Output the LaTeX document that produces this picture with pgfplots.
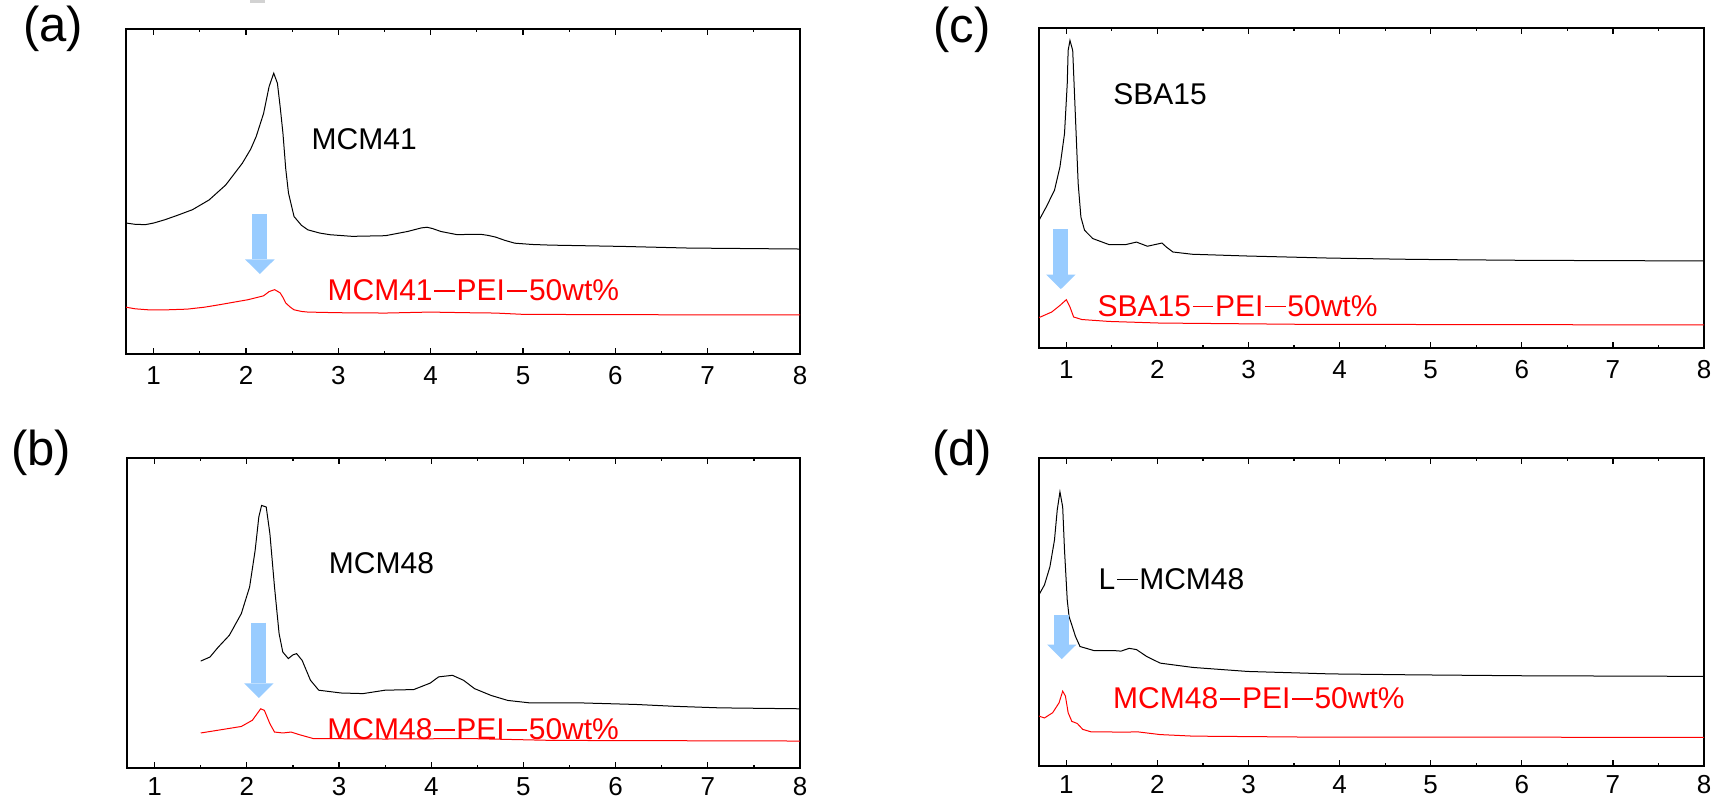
\documentclass[border=0pt]{standalone}
\usepackage{pgfplots}
\pgfplotsset{compat=1.18}
\usepackage{fontspec}
\setmainfont{Liberation Sans}
\usetikzlibrary{arrows.meta}
\definecolor{arrowblue}{RGB}{153,204,255}
\definecolor{pred}{RGB}{255,0,0}
\newcommand{\dash}{\kern0.06em\rule[0.3em]{0.68em}{0.05em}\kern0.06em}
\newcommand{\lab}{\fontsize{15}{15}\selectfont}
\newcommand{\plab}{\fontsize{24.5}{25}\selectfont}
\pgfplotsset{panel/.style={
  scale only axis, anchor=south west,
  xmin=0.7, xmax=8, ymin=0, ymax=100,
  xtick={1,2,3,4,5,6,7,8}, minor x tick num=1,
  ytick=\empty,
  minor ytick={5.88,11.76,17.65,23.53,29.41,35.29,41.18,47.06,52.94,58.82,64.71,70.59,76.47,82.35,88.24,94.12},
  tick align=inside, major tick length=3pt, minor tick length=1.5pt,
  axis line style={line width=0.8pt},
  tick style={line width=0.6pt, black},
  xticklabel style={font=\fontsize{13}{13}\selectfont, inner sep=0pt, yshift=-6pt},
  /pgf/number format/assume math mode=true,
  every axis plot/.append style={line width=0.5pt, mark=none},
}}
\tikzset{bluearrow/.style={arrowblue, line width=7.6pt, -{Triangle[width=14.7pt,length=7.3pt,line width=0pt]}}}
\begin{document}
\begin{tikzpicture}
\useasboundingbox (0,0) rectangle (862.5pt,399.5pt);
\fill[gray!35] (125pt,398pt) rectangle (132.5pt,399.5pt);
\node[font=\plab, inner sep=0pt] at (26.5pt,385pt) {(a)};
\node[font=\plab, inner sep=0pt] at (481pt,384.5pt) {(c)};
\node[font=\plab, inner sep=0pt] at (20.5pt,173.25pt) {(b)};
\node[font=\plab, inner sep=0pt] at (481pt,173.25pt) {(d)};
% (a)
\begin{axis}[panel, at={(63pt,222.5pt)}, width=337pt, height=162.5pt]
\addplot[black] coordinates {(0.70,40.3)(0.80,39.9)(0.91,39.8)(1.00,40.3)(1.12,41.3)(1.25,42.6)(1.42,44.4)(1.60,47.4)(1.78,52.0)(1.96,58.7)(2.05,63.0)(2.11,66.9)(2.19,74.0)(2.25,82.3)(2.30,86.4)(2.34,83.3)(2.37,76)(2.40,67.9)(2.43,57)(2.46,49.5)(2.52,42.3)(2.60,39.6)(2.67,38.2)(2.80,37.2)(2.91,36.7)(3.15,36.2)(3.51,36.4)(3.75,37.7)(3.90,38.8)(3.96,39.0)(4.02,38.6)(4.11,37.7)(4.29,36.7)(4.40,36.8)(4.55,36.8)(4.62,36.5)(4.70,36.0)(4.80,35.0)(4.91,34.1)(5.10,33.7)(5.30,33.5)(6.08,33.1)(6.79,32.6)(8.00,32.3)};
\addplot[pred] coordinates {(0.70,14.4)(0.80,13.9)(0.94,13.6)(1.15,13.6)(1.36,13.8)(1.55,14.4)(1.72,15.2)(1.90,16.1)(2.02,16.7)(2.12,17.4)(2.19,17.9)(2.25,19.2)(2.31,19.8)(2.37,18.8)(2.40,17.4)(2.43,15.7)(2.48,14.4)(2.52,13.6)(2.60,13.1)(2.67,12.9)(3.00,12.7)(3.51,12.6)(3.99,12.9)(4.40,12.7)(4.70,12.6)(5.00,12.2)(6.00,12.1)(8.00,12.0)};
\draw[bluearrow] (axis cs:2.15,43.1) -- (axis cs:2.15,24.6);
\node[font=\lab] at (axis cs:3.28,66.2) {MCM41};
\node[pred, anchor=west, inner sep=0pt, font=\lab] at (axis cs:2.88,19.6) {MCM41\dash PEI\dash 50wt\%};
\end{axis}
% (c)
\begin{axis}[panel, at={(519.5pt,225.5pt)}, width=332.5pt, height=160pt]
\addplot[black] coordinates {(0.70,39.9)(0.78,44.1)(0.87,49.3)(0.93,56.6)(0.98,67.0)(1.01,82.6)(1.02,93.0)(1.04,96.1)(1.07,93.0)(1.10,72.2)(1.13,51.4)(1.16,40.9)(1.20,36.8)(1.29,34.2)(1.47,32.3)(1.65,32.3)(1.77,33.1)(1.89,31.8)(2.05,32.8)(2.10,31.5)(2.17,30.0)(2.38,29.3)(2.98,28.75)(3.89,28.1)(4.80,27.7)(6.01,27.4)(8.00,27.2)};
\addplot[pred] coordinates {(0.70,9.5)(0.84,11.25)(0.93,13.3)(1.00,15.1)(1.04,12.8)(1.08,9.7)(1.17,8.9)(1.47,8.3)(2.02,7.8)(3.59,7.4)(8.00,7.2)};
\draw[bluearrow] (axis cs:0.94,37.1) -- (axis cs:0.94,18.4);
\node[font=\lab] at (axis cs:2.03,79.3) {SBA15};
\node[pred, anchor=west, inner sep=0pt, font=\lab] at (axis cs:1.34,13.1) {SBA15\dash PEI\dash 50wt\%};
\end{axis}
% (b)
\begin{axis}[panel, at={(63.5pt,15.5pt)}, width=336.5pt, height=155pt, xticklabel style={yshift=1.5pt}]
\addplot[black] coordinates {(1.50,34.5)(1.60,35.8)(1.69,39.0)(1.81,42.8)(1.94,49.8)(2.03,58.4)(2.09,70.2)(2.13,81.0)(2.16,84.7)(2.21,84.2)(2.25,75.6)(2.30,58.4)(2.35,43.3)(2.39,37.4)(2.45,35.3)(2.50,36.5)(2.54,36.9)(2.60,34.7)(2.69,28.3)(2.78,25.1)(3.02,24.2)(3.26,24.0)(3.50,25.1)(3.81,25.3)(3.99,27.4)(4.08,29.4)(4.23,29.9)(4.35,28.3)(4.47,25.6)(4.65,23.4)(4.83,21.8)(5.07,21.0)(5.62,21.0)(6.22,20.5)(6.64,19.9)(7.13,19.4)(8.00,19.1)};
\addplot[pred] coordinates {(1.50,11.3)(1.69,12.2)(1.94,13.4)(2.06,15.4)(2.15,19.1)(2.19,18.6)(2.25,14.3)(2.30,11.6)(2.39,11.3)(2.48,11.6)(2.57,10.75)(2.72,9.5)(3.50,9.35)(4.41,9.5)(5.32,8.9)(8.00,8.7)};
\draw[bluearrow] (axis cs:2.13,46.9) -- (axis cs:2.13,22.6);
\node[font=\lab] at (axis cs:3.46,66.2) {MCM48};
\node[pred, anchor=west, inner sep=0pt, font=\lab] at (axis cs:2.87,12.5) {MCM48\dash PEI\dash 50wt\%};
\end{axis}
% (d)
\begin{axis}[panel, at={(519.5pt,16.5pt)}, width=332.5pt, height=154pt, xticklabel style={yshift=1.5pt}]
\addplot[black] coordinates {(0.70,55.6)(0.76,58.8)(0.82,64.7)(0.87,73.4)(0.90,83.1)(0.93,89.0)(0.96,84.1)(0.98,70.1)(1.01,53.9)(1.03,48.5)(1.06,45.8)(1.10,42.1)(1.15,38.8)(1.30,37.5)(1.51,37.5)(1.60,37.3)(1.69,38.2)(1.77,37.8)(1.88,35.6)(2.03,33.4)(2.39,32.0)(2.99,30.7)(3.90,29.9)(4.80,29.6)(6.01,29.3)(8.00,29.1)};
\addplot[pred] coordinates {(0.70,16.2)(0.76,15.6)(0.85,17.3)(0.92,20.5)(0.96,24.3)(0.99,22.7)(1.02,17.3)(1.06,14.5)(1.12,13.8)(1.18,11.9)(1.27,11.1)(1.66,11.0)(1.78,11.1)(2.03,10.2)(2.39,9.7)(3.60,9.4)(8.00,9.3)};
\draw[bluearrow] (axis cs:0.95,49.1) -- (axis cs:0.95,34.7);
\node[anchor=west, inner sep=0pt, font=\lab] at (axis cs:1.35,60.7) {L\dash MCM48};
\node[pred, anchor=west, inner sep=0pt, font=\lab] at (axis cs:1.51,21.9) {MCM48\dash PEI\dash 50wt\%};
\end{axis}
\end{tikzpicture}
\end{document}
